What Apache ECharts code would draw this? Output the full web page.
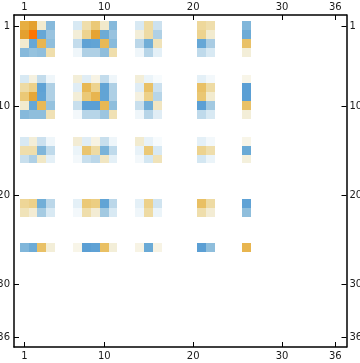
<!DOCTYPE html>
<html><head><meta charset="utf-8">
<style>html,body{margin:0;padding:0;background:#fff}#c{width:360px;height:363px}</style>
<script src="https://cdn.jsdelivr.net/npm/echarts@6/dist/echarts.min.js"></script>
</head><body><div id="c"></div>
<script>
const tickLabels = [1, 10, 20, 30, 36];
const indices = [1,2,3,4,7,8,9,10,11,14,15,16,21,22,26];
const row1  = [.50,.60,.12,-.33, -.10,.20,.33,.13,-.33, -.10,.22,-.13, .24,.20, -.35];
const row2  = [.60,1.0,-.45,-.27, .10,.27,.58,-.42,-.27, .10,.22,-.20, .27,.12, -.42];
const row3  = [.12,-.45,.45,-.30, -.15,-.48,-.47,.42,-.32, -.17,-.40,.17, -.45,-.22, .37];
const row4  = [-.33,-.28,-.30,.20, -.04,-.20,-.20,-.30,.20, -.04,-.18,-.07, -.16,-.10, .10];
const row7  = [-.10,.08,-.15,-.04, .10,-.08,.07,-.15,-.04, .10,-.05,-.02, -.07,-.03, .06];
const row8  = [.22,.28,-.48,-.20, -.08,.43,.27,-.47,-.20, -.08,.37,-.13, .37,.22, -.50];
const row9  = [.33,.55,-.47,-.20, .10,.33,.45,-.47,-.20, .08,.28,-.18, .34,.12, -.50];
const row10 = [.12,-.45,.42,-.28, -.14,-.50,-.50,.43,-.30, -.14,-.40,.15, -.50,-.24, .37];
const row11 = [-.33,-.30,-.30,.18, -.03,-.18,-.18,-.26,.18, -.04,-.18,-.08, -.16,-.10, .10];
const row14 = [-.10,.10,-.13,-.04, .11,-.08,.07,-.14,-.04, .12,-.06,-.02, -.07,-.03, .06];
const row15 = [.20,.20,-.35,-.16, -.05,.35,.22,-.37,-.16, -.06,.33,-.10, .27,.20, -.43];
const row16 = [-.14,-.20,.14,-.07, -.03,-.14,-.17,.15,-.07, -.03,-.11,.17, -.11,-.05, .09];
const row21 = [.25,.28,-.40,-.17, -.07,.33,.30,-.47,-.17, -.07,.28,-.12, .38,.22, -.48];
const row22 = [.17,.11,-.23,-.10, -.03,.20,.11,-.24,-.10, -.04,.22,-.05, .20,.11, -.30];
const row26 = [-.35,-.42,.37,.10, .06,-.50,-.48,.38,.10, .07,-.43,.07, -.50,-.30, .45];
const rows = [row1,row2,row3,row4,row7,row8,row9,row10,row11,row14,row15,row16,row21,row22,row26];
const palette = ['#4F96D0','#5B9FD4','#71AED7','#8FBEDC','#AFD0E5','#D8E9F3','#FFFFFF','#F3EED8','#EFDEAC','#ECCE82','#E8BC5C','#E7AE42','#E4A02E','#EE9820','#F28C14','#F8800A','#FF7500'];

const data = [];
rows.forEach((vals, i) => vals.forEach((v, j) => data.push([indices[j], indices[i], v])));

const axisBase = (extra, margin) => Object.assign({
  type: 'value',
  splitLine: {show: false},
  axisLine: {show: true, onZero: false, lineStyle: {color: '#000', width: 1.5}},
  axisTick: {show: true, inside: true, length: 5, customValues: tickLabels, lineStyle: {color: '#000', width: 1}},
  axisLabel: {show: true, customValues: tickLabels, color: '#1a1a1a', fontSize: 10, fontFamily: 'DejaVu Sans', margin: margin, hideOverlap: false, showMinLabel: true, showMaxLabel: true}
}, extra);
const xr = {min: -0.16, max: 37.26};
const yr = {min: -0.27, max: 37.09, inverse: true};
const cellShiftX = -0.02, cellShiftY = -0.07;

const chart = echarts.init(document.getElementById('c'), null, {renderer: 'canvas'});
chart.setOption({
  animation: false,
  backgroundColor: '#fff',
  grid: {left: 14, right: 13.5, top: 15, bottom: 16, containLabel: false, outerBoundsMode: 'none'},
  xAxis: [axisBase({position: 'top', ...xr}, 3), axisBase({position: 'bottom', ...xr}, 4.5)],
  yAxis: [axisBase({position: 'left', ...yr}, 4), axisBase({position: 'right', ...yr}, 3)],
  visualMap: {show: false, type: 'continuous', min: -0.6, max: 1, dimension: 2, seriesIndex: 0, inRange: {color: palette}},
  series: [{
    type: 'custom',
    coordinateSystem: 'cartesian2d',
    xAxisIndex: 0, yAxisIndex: 0,
    encode: {x: 0, y: 1},
    data: data,
    renderItem: function (params, api) {
      const a = api.coord([api.value(0) - 0.5 + cellShiftX, api.value(1) - 0.5 + cellShiftY]);
      const b = api.coord([api.value(0) + 0.5 + cellShiftX, api.value(1) + 0.5 + cellShiftY]);
      const x = Math.round(a[0]), y = Math.round(a[1]);
      return {type: 'rect', shape: {x: x, y: y, width: Math.round(b[0]) - x, height: Math.round(b[1]) - y}, style: {fill: api.visual('color')}};
    }
  }]
});
</script></body></html>
